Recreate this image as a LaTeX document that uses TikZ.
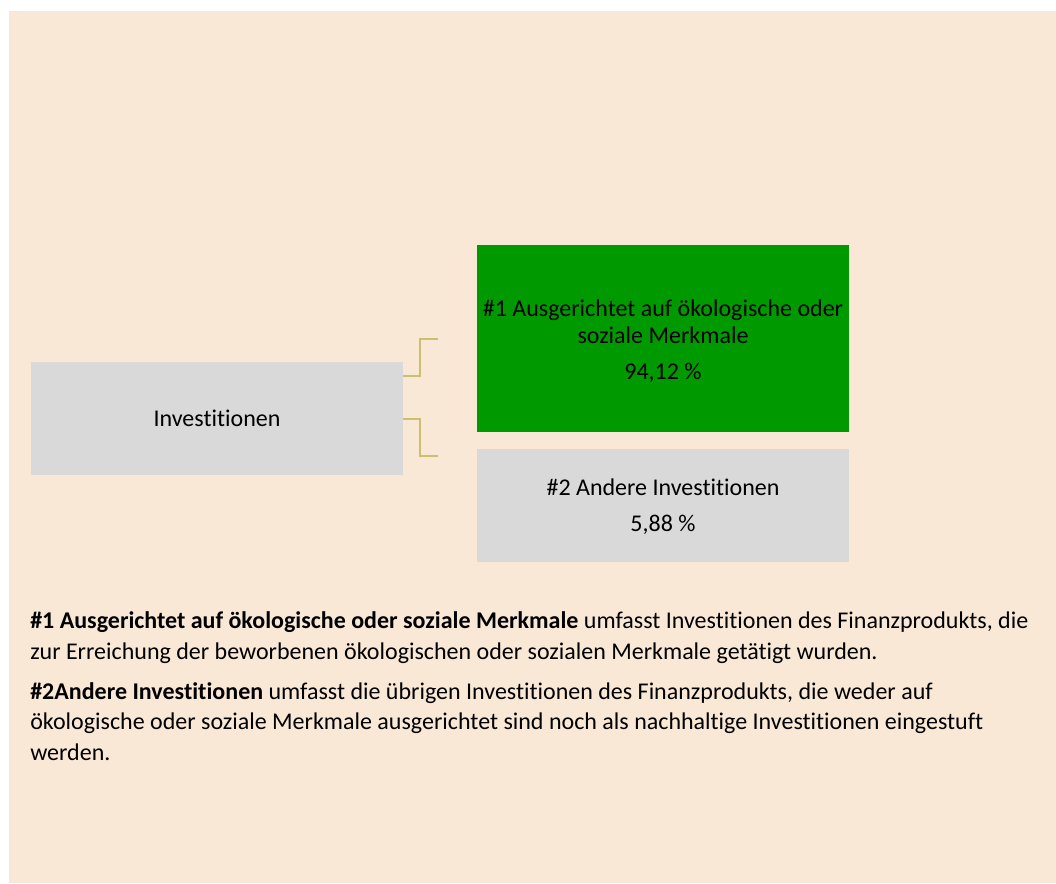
\documentclass[tikz,border=0pt]{standalone}
\usepackage{fontspec}
\setmainfont{Carlito}[Ligatures=NoCommon]
\definecolor{peach}{RGB}{250,232,215}
\definecolor{boxgray}{RGB}{217,217,217}
\definecolor{boxgreen}{RGB}{0,153,0}
\definecolor{bracket}{RGB}{204,192,112}
\tikzset{
  catbox/.style={rectangle,draw=none,fill=boxgray,inner sep=0pt,align=center,
    minimum width=279pt,font=\fontsize{18}{20.25}\selectfont},
  link/.style={draw=bracket,line width=1.5pt},
  note/.style={anchor=base west,inner sep=0pt,align=left,
    font=\fontsize{18}{22.8}\selectfont}
}
\begin{document}
\begin{tikzpicture}[x=0.75pt,y=-0.75pt]
  \useasboundingbox (0,0) rectangle (1056,883);
  \fill[peach] (9,11) rectangle (1056,883);
  % boxes
  \node[catbox,minimum height=84.75pt] (inv) at (217,418.5) {Investitionen};
  \node[catbox,fill=boxgreen,minimum height=140.25pt] (esg) at (663,338.5)
    {\rule{0pt}{17pt}\#1 Ausgerichtet auf ökologische oder\\soziale Merkmale\\[7pt]94,12 \%};
  \node[catbox,minimum height=84.75pt] (other) at (663,505.5)
    {\rule{0pt}{14pt}\#2 Andere Investitionen\\[7pt]5,88 \%};
  % brackets
  \coordinate (up) at (438,339);
  \coordinate (lo) at (438,456);
  \draw[link] (inv.east |- 0,376) -- (420,376) |- (up);
  \draw[link] (inv.east |- 0,419) -- (420,419) |- (lo);
  % explanations
  \node[note] (n1) at (30,659) {\textbf{\#1 Ausgerichtet auf ökologische oder soziale Merkmale} umfasst Investitionen des Finanzprodukts, die\\
    zur Erreichung der beworbenen ökologischen oder sozialen Merkmale getätigt wurden.};
  \node[note] (n2) at (30,760) {\textbf{\#2Andere Investitionen} umfasst die übrigen Investitionen des Finanzprodukts, die weder auf\\
    ökologische oder soziale Merkmale ausgerichtet sind noch als nachhaltige Investitionen eingestuft\\
    werden.};
\end{tikzpicture}
\end{document}
